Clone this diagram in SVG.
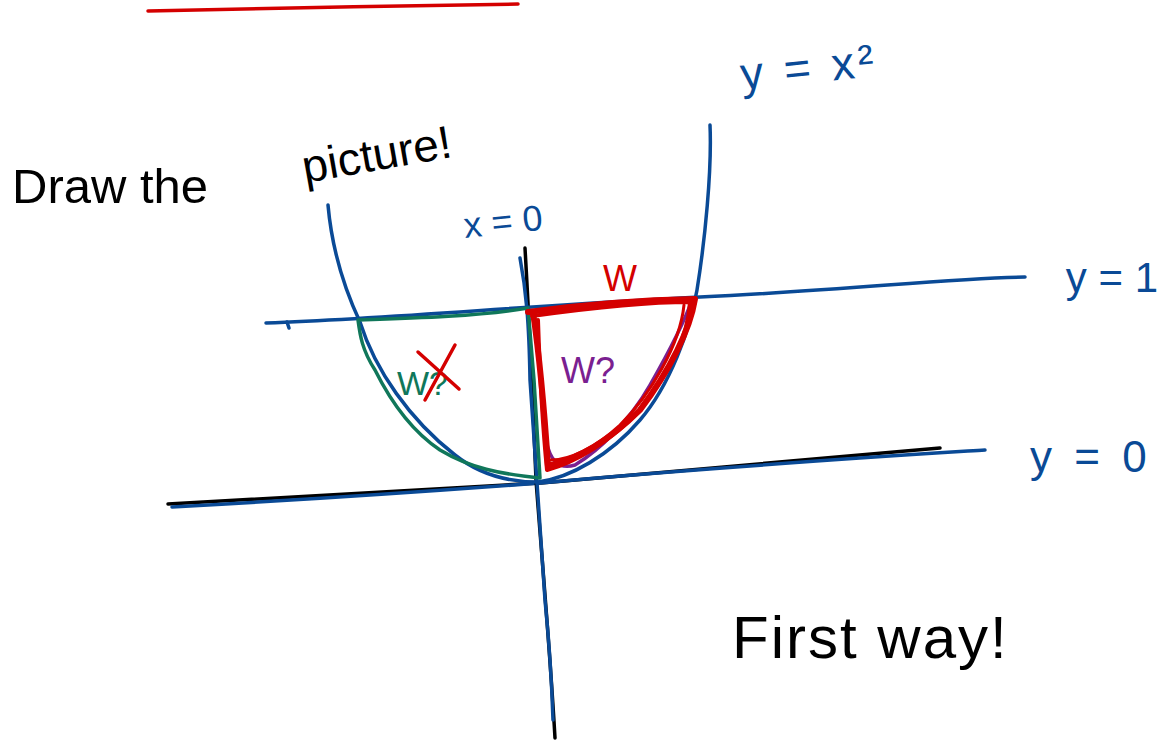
<svg xmlns="http://www.w3.org/2000/svg" width="1164" height="740" viewBox="0 0 1164 740">
<style>
.hand{font-family:"Liberation Sans","DejaVu Sans",sans-serif;}
.blk{fill:#000;}
.blu{fill:#0a4a96;}
.ln{fill:none;stroke-linecap:round;stroke-linejoin:round;}
.b{stroke:#0a4a96;stroke-width:3.5;}
.k{stroke:#000;stroke-width:3.5;}
.r{stroke:#d40000;}
.g{stroke:#10775a;stroke-width:3.5;}
.p{stroke:#7a2090;stroke-width:3.5;}
</style>
<rect width="1164" height="740" fill="#fff"/>
<path class="ln r" stroke-width="3.5" d="M148,11 C260,8 400,6 518,4"/>
<g id="axes">
<path class="ln k" d="M168,504 C320,496 460,488 540,483 C700,470 860,455 940,448"/>
<path class="ln b" d="M172,507 C300,500 420,492 540,483 C700,468 860,458 985,450"/>
<path class="ln k" d="M525,248 C528,300 532,380 536,480 C542,560 550,650 555,738"/>
<path class="ln b" d="M520,258 C526,290 529,320 530,380 C534,440 540,520 545,600 C550,650 552,690 553,720"/>
<path class="ln b" d="M266,323 C400,318 520,306 700,297 C850,290 950,278 1025,277"/>
<path class="ln b" d="M287,322 L289,328"/>
<path class="ln b" d="M328,205 C332,250 345,290 360,322 C375,370 410,420 455,455 C480,475 510,482 538,482 C570,478 610,455 640,420 C670,385 690,330 697,290 C705,240 712,170 710,125"/>
</g>
<g id="green-region">
<path class="ln g" d="M358,320 C420,318 480,316 528,308 L534,380 L540,478 C500,474 470,468 440,450 C410,430 390,400 375,370 C362,350 360,335 358,320 Z"/>
</g>
<g id="purple-region">
<path class="ln p" d="M546,440 C550,460 558,470 575,465 C600,450 630,420 650,385 C670,350 685,320 692,300"/>
</g>
<g id="red-region">
<path class="ln r" stroke-width="6" d="M528,312 C580,305 640,300 695,299 C690,330 670,370 640,410 C610,440 580,458 548,466 C545,420 540,360 533,312 Z"/>
<path class="ln r" stroke-width="4" d="M532,316 C590,308 650,302 690,302 C688,340 665,380 635,415 C605,445 575,462 547,470 C543,430 540,380 538,320"/>
<path class="ln r" stroke-width="3" d="M684,305 C680,345 650,395 620,425 C595,448 570,460 551,460"/>
</g>
<g id="labels">
<text class="hand blk" x="12" y="203" font-size="49">Draw the</text>
<text class="hand blk" x="305" y="183" font-size="46" transform="rotate(-10 305 183)">picture!</text>
<text class="hand blu" x="742" y="90" font-size="46" letter-spacing="4" transform="rotate(-6 742 90)">y = x²</text>
<text class="hand blu" x="465" y="238" font-size="36" transform="rotate(-6 465 238)">x = 0</text>
<text class="hand blu" x="1158" y="292" font-size="42" text-anchor="end">y = 1</text>
<text class="hand blu" x="1030" y="472" font-size="44" letter-spacing="5">y = 0</text>
<text class="hand" x="603" y="291" font-size="36" fill="#d40000">W</text>
<text class="hand" x="561" y="383" font-size="36" fill="#7a2090">W?</text>
<text class="hand" x="397" y="395" font-size="34" fill="#10775a">W?</text>
<path class="ln r" stroke-width="3.5" d="M418,352 L459,389 M455,345 L425,400"/>
<text class="hand blk" x="732" y="658" font-size="60" letter-spacing="2">First way!</text>
</g>
</svg>
